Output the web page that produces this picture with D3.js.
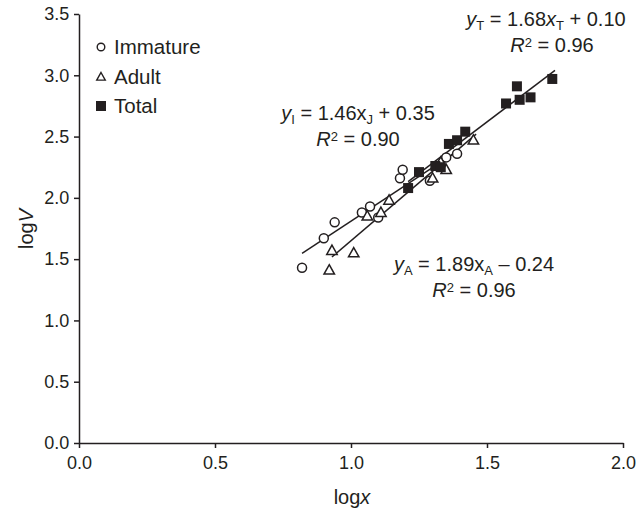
<!DOCTYPE html>
<html><head><meta charset="utf-8">
<script src="https://cdn.jsdelivr.net/npm/d3@7"></script>
<style>
body{margin:0;background:#fff;}
svg text{font-family:"Liberation Sans",Arial,Helvetica,sans-serif;fill:#231f20;}
</style></head>
<body><svg id="c" width="637" height="512"></svg>
<script>
// ---- data ----
const xTicks = [0, 0.5, 1.0, 1.5, 2.0];
const yTicks = [0, 0.5, 1.0, 1.5, 2.0, 2.5, 3.0, 3.5];
const immatureX = [0.82, 0.90, 0.94, 1.04, 1.07, 1.10, 1.18, 1.19, 1.29, 1.35, 1.39];
const immatureY = [1.43, 1.67, 1.80, 1.88, 1.93, 1.84, 2.16, 2.23, 2.14, 2.33, 2.36];
const adultX = [0.92, 0.93, 1.01, 1.06, 1.11, 1.14, 1.30, 1.33, 1.35, 1.45];
const adultY = [1.41, 1.57, 1.55, 1.85, 1.88, 1.98, 2.16, 2.29, 2.23, 2.47];
const totalX = [1.21, 1.25, 1.31, 1.33, 1.36, 1.39, 1.42, 1.57, 1.61, 1.62, 1.66, 1.74];
const totalY = [2.08, 2.21, 2.26, 2.25, 2.44, 2.47, 2.54, 2.77, 2.91, 2.80, 2.82, 2.97];
const fitNames = ["Immature", "Adult", "Total"];
const fitSlopes = [1.46, 1.89, 1.68];
const fitIntercepts = [0.35, -0.24, 0.10];
const fitXStart = [0.82, 0.93, 1.21];
const fitXEnd = [1.40, 1.46, 1.75];
const legendLabels = ["Immature", "Adult", "Total"];

// ---- chart ----
const svg = d3.select("#c");
const x = d3.scaleLinear().domain([0, 2]).range([79, 623]);
const y = d3.scaleLinear().domain([0, 3.5]).range([443, 14]);
const ink = "#231f20";

const xAxis = svg.append("g").attr("transform", `translate(0,${y(0)})`)
  .call(d3.axisBottom(x).tickValues(xTicks).tickFormat(d3.format(".1f")).tickSize(5).tickSizeOuter(0));
const yAxis = svg.append("g").attr("transform", `translate(${x(0)},0)`)
  .call(d3.axisLeft(y).tickValues(yTicks).tickFormat(d3.format(".1f")).tickSize(5).tickSizeOuter(0));
[xAxis, yAxis].forEach(g => {
  g.select(".domain").attr("stroke", ink).attr("stroke-width", 1.5);
  g.selectAll(".tick line").attr("stroke", ink).attr("stroke-width", 1.5);
  g.selectAll(".tick text").attr("font-size", 18).attr("fill", ink)
    .attr("font-family", "Liberation Sans, Arial, sans-serif");
});
xAxis.selectAll(".tick text").attr("dy", "1.0em");
yAxis.selectAll(".tick text").attr("dx", "-0.1em");

// axis titles
const xt = svg.append("text").attr("x", 352).attr("y", 504).attr("text-anchor", "middle").attr("font-size", 20);
xt.append("tspan").text("log");
xt.append("tspan").attr("font-style", "italic").text("x");
const yt = svg.append("text").attr("transform", "translate(33,229) rotate(-90)").attr("text-anchor", "middle").attr("font-size", 20);
yt.append("tspan").text("log");
yt.append("tspan").attr("font-style", "italic").text("V");

// fit lines
fitSlopes.forEach((s, i) => {
  const f = v => s * v + fitIntercepts[i];
  svg.append("line")
    .attr("x1", x(fitXStart[i])).attr("y1", y(f(fitXStart[i])))
    .attr("x2", x(fitXEnd[i])).attr("y2", y(f(fitXEnd[i])))
    .attr("stroke", ink).attr("stroke-width", 1.5);
});

// markers
const triPath = r => `M0,${-r}L${r*0.95},${r*0.7}L${-r*0.95},${r*0.7}Z`;
svg.append("g").selectAll("circle").data(d3.range(immatureX.length)).join("circle")
  .attr("cx", i => x(immatureX[i])).attr("cy", i => y(immatureY[i])).attr("r", 4.5)
  .attr("fill", "#fff").attr("stroke", ink).attr("stroke-width", 1.5);
svg.append("g").selectAll("path").data(d3.range(adultX.length)).join("path")
  .attr("transform", i => `translate(${x(adultX[i])},${y(adultY[i])})`).attr("d", triPath(5.5))
  .attr("fill", "#fff").attr("stroke", ink).attr("stroke-width", 1.5);
svg.append("g").selectAll("rect").data(d3.range(totalX.length)).join("rect")
  .attr("x", i => x(totalX[i]) - 5).attr("y", i => y(totalY[i]) - 5).attr("width", 10).attr("height", 10)
  .attr("fill", ink);

// legend
const lg = svg.append("g");
const lgY = [47, 77, 106];
lg.append("circle").attr("cx", 101).attr("cy", lgY[0]).attr("r", 3.8).attr("fill", "#fff").attr("stroke", ink).attr("stroke-width", 1.4);
lg.append("path").attr("transform", `translate(101,${lgY[1]})`).attr("d", triPath(4.5)).attr("fill", "#fff").attr("stroke", ink).attr("stroke-width", 1.4);
lg.append("rect").attr("x", 96).attr("y", lgY[2] - 5).attr("width", 10).attr("height", 10).attr("fill", ink);
legendLabels.forEach((t, i) => {
  lg.append("text").attr("x", 114).attr("y", lgY[i] + 7).attr("font-size", 20.5).text(t);
});

// equation annotations
function eq(cx, by, parts) {
  const t = svg.append("text").attr("x", cx).attr("y", by).attr("text-anchor", "middle").attr("font-size", 20);
  parts.forEach(p => {
    const s = t.append("tspan").text(p.t);
    if (p.i) s.attr("font-style", "italic");
    if (p.sub) s.attr("font-size", 13).attr("dy", 4);
    if (p.sup) s.attr("font-size", 13).attr("dy", -5);
    if (p.back) s.attr("dy", p.back);
  });
}
eq(546, 26, [{t:"y", i:1}, {t:"T", sub:1}, {t:" = 1.68", back:-4}, {t:"x", i:1}, {t:"T", sub:1}, {t:" + 0.10", back:-4}]);
eq(552, 52, [{t:"R", i:1}, {t:"2", sup:1}, {t:" = 0.96", back:5}]);
eq(358, 120, [{t:"y", i:1}, {t:"I", sub:1}, {t:" = 1.46x", back:-4}, {t:"J", sub:1}, {t:" + 0.35", back:-4}]);
eq(358, 146, [{t:"R", i:1}, {t:"2", sup:1}, {t:" = 0.90", back:5}]);
eq(474, 271, [{t:"y", i:1}, {t:"A", sub:1}, {t:" = 1.89x", back:-4}, {t:"A", sub:1}, {t:" \u2013 0.24", back:-4}]);
eq(474, 297, [{t:"R", i:1}, {t:"2", sup:1}, {t:" = 0.96", back:5}]);
</script></body></html>
